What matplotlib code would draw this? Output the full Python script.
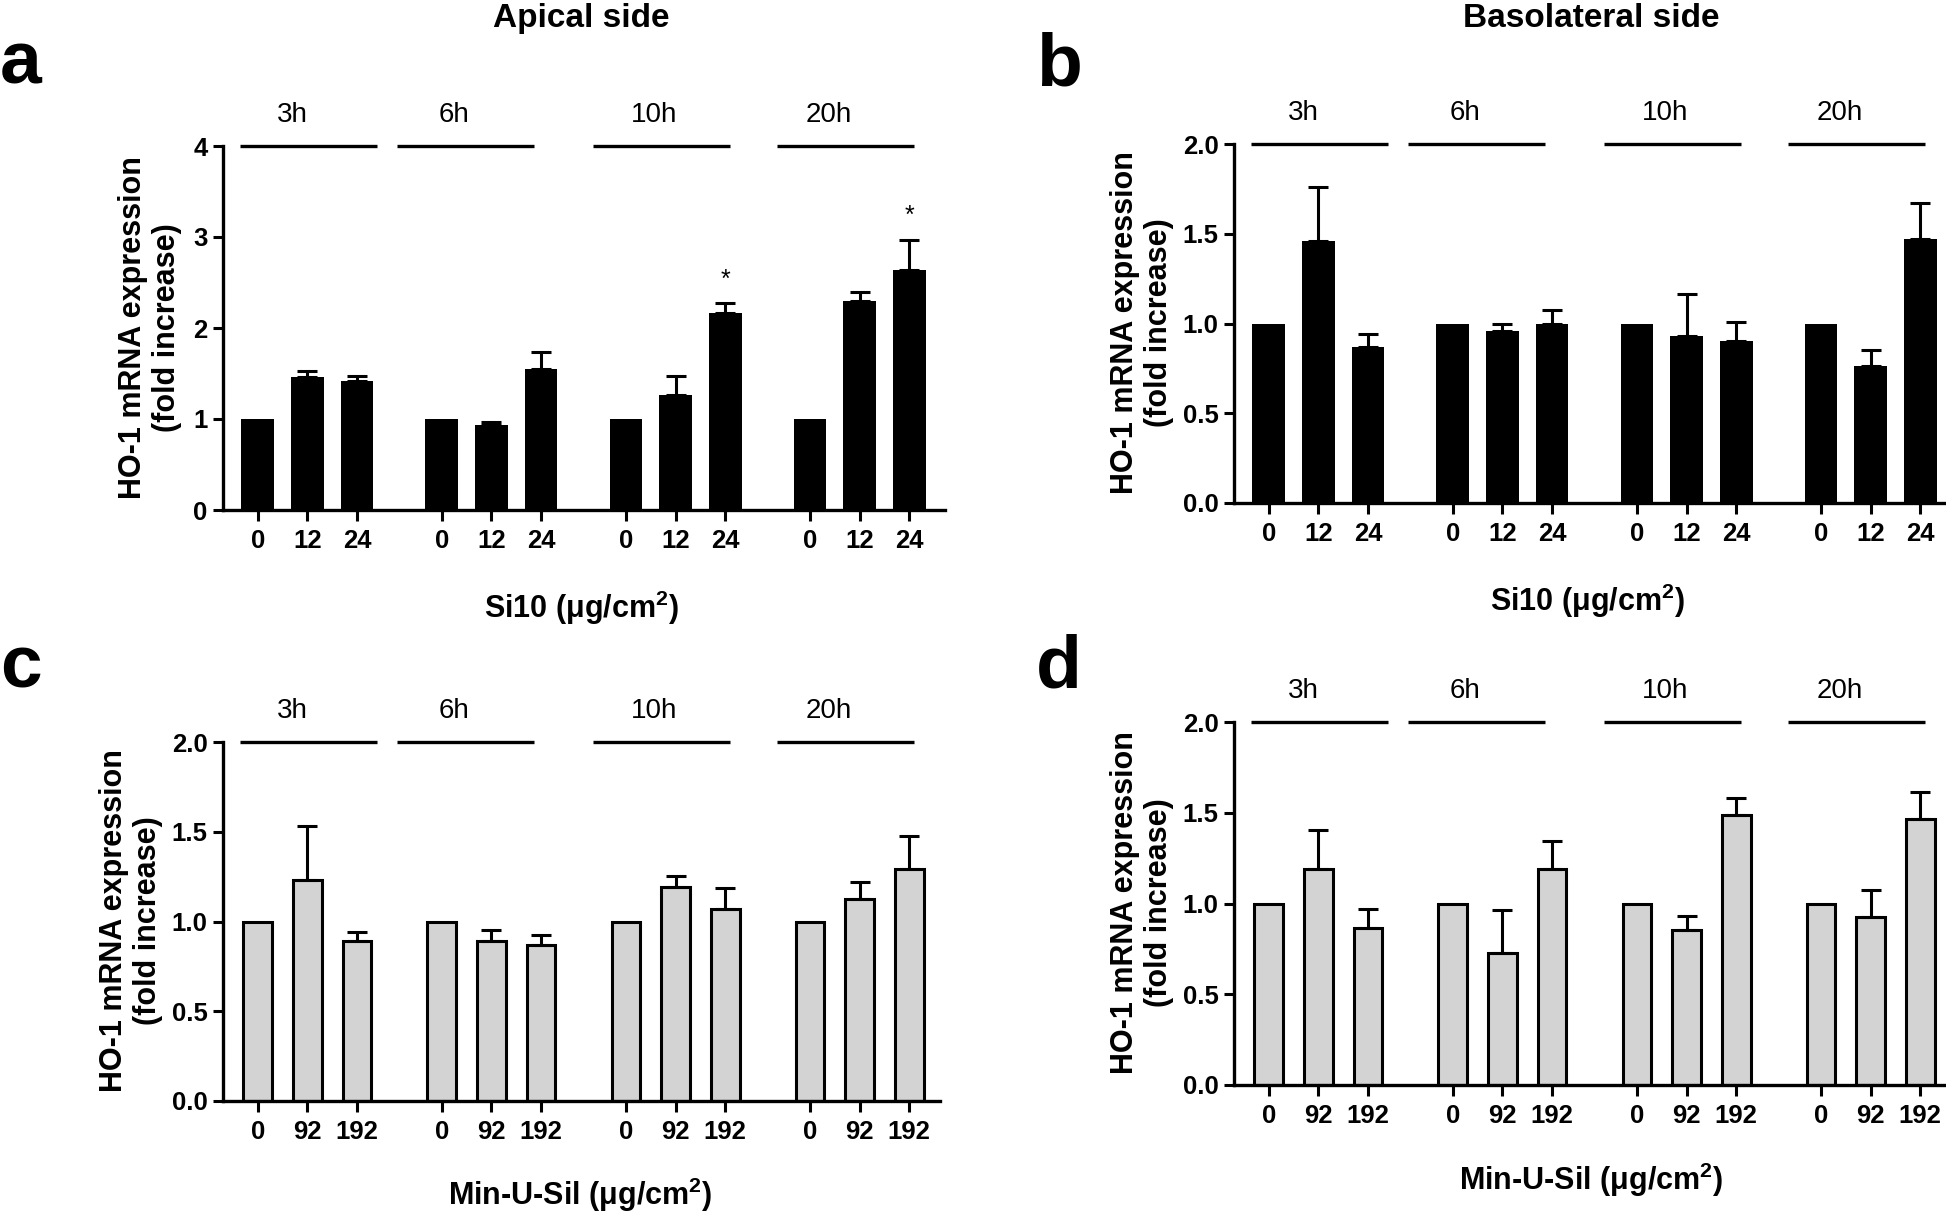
import numpy as np
import matplotlib
matplotlib.use('Agg')
import matplotlib.pyplot as plt

# Fonte tipo Arial (Liberation Sans)
FONT = ['Liberation Sans', 'DejaVu Sans']
plt.rcParams['font.family'] = FONT
plt.rcParams['mathtext.fontset'] = 'custom'
plt.rcParams['mathtext.rm'] = 'Liberation Sans:bold'
plt.rcParams['mathtext.bf'] = 'Liberation Sans:bold'
plt.rcParams['mathtext.default'] = 'bf'

W, H = 1946, 1215

# ==============================================
# DADOS
# ==============================================
time_points = ['3h', '6h', '10h', '20h']
si10_doses = ['0', '12', '24']
minusil_doses = ['0', '92', '192']

# a - apical, Si10
apical_si10 = [1.0, 1.46, 1.42, 1.0, 0.93, 1.55, 1.0, 1.26, 2.17, 1.0, 2.30, 2.64]
apical_si10_sem = [0, 0.07, 0.055, 0, 0.04, 0.19, 0, 0.21, 0.10, 0, 0.10, 0.33]
apical_si10_sig = [0, 0, 0, 0, 0, 0, 0, 0, 1, 0, 0, 1]

# b - basolateral, Si10
baso_si10 = [1.0, 1.46, 0.87, 1.0, 0.96, 1.0, 1.0, 0.93, 0.90, 1.0, 0.765, 1.47]
baso_si10_sem = [0, 0.30, 0.07, 0, 0.035, 0.075, 0, 0.235, 0.11, 0, 0.09, 0.20]

# c - apical, Min-U-Sil
apical_mus = [1.0, 1.23, 0.89, 1.0, 0.89, 0.87, 1.0, 1.19, 1.07, 1.0, 1.125, 1.295]
apical_mus_sem = [0, 0.30, 0.05, 0, 0.065, 0.055, 0, 0.065, 0.115, 0, 0.095, 0.18]

# d - basolateral, Min-U-Sil
baso_mus = [1.0, 1.19, 0.865, 1.0, 0.725, 1.19, 1.0, 0.855, 1.49, 1.0, 0.925, 1.465]
baso_mus_sem = [0, 0.215, 0.105, 0, 0.24, 0.155, 0, 0.075, 0.09, 0, 0.15, 0.15]

yticks_a = [0, 1, 2, 3, 4]
yticks_b = [0.0, 0.5, 1.0, 1.5, 2.0]

# ==============================================
# LAYOUT
# ==============================================
group_step = 3.71
line_span = [(-0.35, 2.4), (-0.9, 1.86), (-0.66, 2.1), (-0.67, 2.09)]
label_off = [0.7, 0.25, 0.56, 0.38]

x = np.array([g * group_step + i for g in range(4) for i in range(3)])

fig = plt.figure(figsize=(W / 100, H / 100), dpi=100)


def add_ax(left, right, top, bottom):
    return fig.add_axes([left / W, 1 - bottom / H, (right - left) / W, (bottom - top) / H])


def ftext(px, py, s, **kw):
    fig.text(px / W, 1 - py / H, s, **kw)


panels = [
    dict(box=(223, 945, 146, 510), xlim=(-0.7, 13.85), vals=apical_si10, sem=apical_si10_sem,
         sig=apical_si10_sig, doses=si10_doses, yt=yticks_a, fmt='{:.0f}', color='black',
         letter='a', letter_xy=(0, 84), ylab_xy=(150, 328),
         xlab='Si10 (μg/cm$^{2}$)', xlab_xy=(581, 618)),
    dict(box=(1234, 1956, 144, 503), xlim=(-0.7, 13.85), vals=baso_si10, sem=baso_si10_sem,
         sig=None, doses=si10_doses, yt=yticks_b, fmt='{:.1f}', color='black',
         letter='b', letter_xy=(1036, 85), ylab_xy=(1142, 323),
         xlab='Si10 (μg/cm$^{2}$)', xlab_xy=(1587, 611)),
    dict(box=(223, 940, 742, 1101), xlim=(-0.7, 13.75), vals=apical_mus, sem=apical_mus_sem,
         sig=None, doses=minusil_doses, yt=yticks_b, fmt='{:.1f}', color='#d3d3d3',
         letter='c', letter_xy=(0, 687), ylab_xy=(131, 921),
         xlab='Min-U-Sil (μg/cm$^{2}$)', xlab_xy=(580, 1205)),
    dict(box=(1234, 1956, 722, 1085), xlim=(-0.7, 13.85), vals=baso_mus, sem=baso_mus_sem,
         sig=None, doses=minusil_doses, yt=yticks_b, fmt='{:.1f}', color='#d3d3d3',
         letter='d', letter_xy=(1036, 687), ylab_xy=(1142, 903),
         xlab='Min-U-Sil (μg/cm$^{2}$)', xlab_xy=(1591, 1190)),
]

for p in panels:
    ax = add_ax(*p['box'])
    vals = np.array(p['vals'])
    err = np.array(p['sem'])
    ymax = p['yt'][-1]
    black = p['color'] == 'black'

    ax.bar(x, vals, width=0.66 if black else 0.58, color=p['color'], edgecolor='black',
           linewidth=0 if black else 2.2, zorder=2)
    m = err > 0
    ax.errorbar(x[m], vals[m], yerr=[np.zeros(m.sum()), err[m]], fmt='none',
                ecolor='black', elinewidth=2.2, capsize=7, capthick=2.2, zorder=3)

    if p['sig'] is not None:
        for xi, v, e, s in zip(x, vals, err, p['sig']):
            if s:
                ax.annotate('*', xy=(xi, v + e), xytext=(0, 12), textcoords='offset points',
                            ha='center', va='baseline', fontsize=18)

    # linhas e rótulos dos tempos
    for g, t in enumerate(time_points):
        x0 = g * group_step
        s, e = line_span[g]
        ax.plot([x0 + s, x0 + e], [ymax, ymax], color='black', lw=2.4,
                solid_capstyle='butt', clip_on=False)
        ax.annotate(t, xy=(x0 + label_off[g], ymax), xytext=(0, 17),
                    textcoords='offset points', ha='center', va='baseline',
                    fontsize=20, annotation_clip=False)

    ax.set_xlim(*p['xlim'])
    ax.set_ylim(0, ymax)
    ax.set_xticks(x)
    ax.set_xticklabels(p['doses'] * 4, fontsize=18.5, fontweight='bold')
    ax.set_yticks(p['yt'])
    ax.set_yticklabels([p['fmt'].format(v) for v in p['yt']], fontsize=18.5,
                       fontweight='bold')
    ax.tick_params(axis='x', length=8, width=2.2, pad=6)
    ax.tick_params(axis='y', length=7.5, width=2.2, pad=3.5)
    for side in ['top', 'right']:
        ax.spines[side].set_visible(False)
    for side in ['left', 'bottom']:
        ax.spines[side].set_linewidth(2.4)

    ftext(*p['ylab_xy'], 'HO-1 mRNA expression\n(fold increase)', rotation=90,
          ha='center', va='center', fontsize=22, fontweight='bold',
          linespacing=1.15, multialignment='center')
    ftext(*p['xlab_xy'], p['xlab'], ha='center', va='baseline', fontsize=22,
          fontweight='bold')
    ftext(*p['letter_xy'], p['letter'], ha='left', va='baseline', fontsize=54,
          fontweight='bold')

ftext(581, 27, 'Apical side', ha='center', va='baseline', fontsize=24, fontweight='bold')
ftext(1591, 27, 'Basolateral side', ha='center', va='baseline', fontsize=24,
      fontweight='bold')

fig.savefig('out.png', dpi=100)
